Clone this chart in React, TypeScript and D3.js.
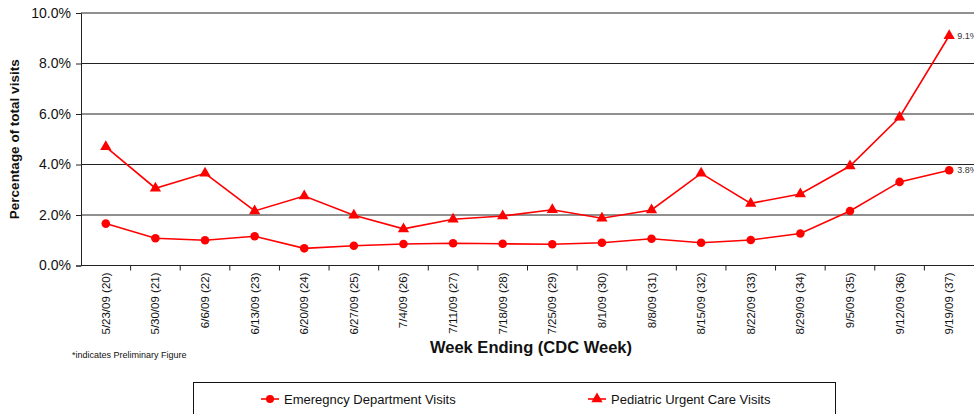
import { useEffect, useRef } from 'react';
import * as d3 from 'd3';

const weeks = [
  '5/23/09 (20)', '5/30/09 (21)', '6/6/09 (22)', '6/13/09 (23)', '6/20/09 (24)', '6/27/09 (25)',
  '7/4/09 (26)', '7/11/09 (27)', '7/18/09 (28)', '7/25/09 (29)', '8/1/09 (30)', '8/8/09 (31)',
  '8/15/09 (32)', '8/22/09 (33)', '8/29/09 (34)', '9/5/09 (35)', '9/12/09 (36)', '9/19/09 (37)',
];

const edVisits = [1.66, 1.08, 1.0, 1.16, 0.68, 0.78, 0.85, 0.88, 0.86, 0.84, 0.9, 1.06, 0.9, 1.01, 1.27, 2.16, 3.31, 3.77];
const pedsVisits = [4.7, 3.06, 3.65, 2.16, 2.75, 1.99, 1.45, 1.83, 1.96, 2.21, 1.87, 2.2, 3.65, 2.46, 2.83, 3.94, 5.87, 9.1];

const yTicks = [0, 2, 4, 6, 8, 10];

const RED = '#ff0000';
const FONT = '"Liberation Sans", Arial, sans-serif';

function App() {
  const ref = useRef<SVGSVGElement>(null);

  useEffect(() => {
    const w = 974;
    const h = 414;
    const left = 81;
    const right = 974;
    const top = 13;
    const bottom = 265.5;

    const svg = d3.select(ref.current).attr('width', w).attr('height', h);
    svg.selectAll('*').remove();

    const x = d3.scaleBand<string>().domain(weeks).range([left, right]).padding(0);
    const cx = (d: string) => (x(d) as number) + x.bandwidth() / 2;
    const y = d3.scaleLinear().domain([0, 10]).range([bottom, top]);

    // gridlines
    svg
      .append('g')
      .selectAll('line')
      .data(yTicks.filter(t => t > 0))
      .join('line')
      .attr('x1', left)
      .attr('x2', right)
      .attr('y1', d => y(d))
      .attr('y2', d => y(d))
      .attr('stroke', '#222')
      .attr('stroke-width', 1);

    // y axis
    const yAxis = svg
      .append('g')
      .attr('transform', `translate(${left},0)`)
      .call(d3.axisLeft(y).tickValues(yTicks).tickSize(5).tickPadding(5).tickFormat(d => `${(+d).toFixed(1)}%`));
    yAxis.select('.domain').attr('stroke', '#222');
    yAxis.selectAll('.tick line').attr('stroke', '#222');
    yAxis.selectAll('text').attr('font-family', FONT).attr('font-size', 14).attr('fill', '#111');

    // x axis
    svg
      .append('line')
      .attr('x1', left)
      .attr('x2', right)
      .attr('y1', bottom)
      .attr('y2', bottom)
      .attr('stroke', '#222');
    svg
      .append('g')
      .selectAll('line')
      .data(weeks.slice(1))
      .join('line')
      .attr('x1', d => x(d) as number)
      .attr('x2', d => x(d) as number)
      .attr('y1', bottom)
      .attr('y2', bottom + 5)
      .attr('stroke', '#222');
    svg
      .append('g')
      .selectAll('text')
      .data(weeks)
      .join('text')
      .attr('transform', d => `translate(${cx(d) + 4},${bottom + 7}) rotate(-90)`)
      .attr('text-anchor', 'end')
      .attr('font-family', FONT)
      .attr('font-size', 11.5)
      .attr('fill', '#111')
      .text(d => d);

    // axis titles
    svg
      .append('text')
      .attr('transform', `translate(19,${(top + bottom) / 2}) rotate(-90)`)
      .attr('text-anchor', 'middle')
      .attr('font-family', FONT)
      .attr('font-size', 13.5)
      .attr('font-weight', 'bold')
      .attr('fill', '#111')
      .text('Percentage of total visits');
    svg
      .append('text')
      .attr('x', 531)
      .attr('y', 353)
      .attr('text-anchor', 'middle')
      .attr('font-family', FONT)
      .attr('font-size', 16.5)
      .attr('font-weight', 'bold')
      .attr('fill', '#111')
      .text('Week Ending (CDC Week)');
    svg
      .append('text')
      .attr('x', 72)
      .attr('y', 358)
      .attr('font-family', FONT)
      .attr('font-size', 9)
      .attr('fill', '#111')
      .text('*indicates Preliminary Figure');

    const line = d3
      .line<number>()
      .x((_, i) => cx(weeks[i]))
      .y(d => y(d));

    const triangle = d3.symbol().type(d3.symbolTriangle).size(55);

    // peds series
    svg.append('path').datum(pedsVisits).attr('d', line).attr('fill', 'none').attr('stroke', RED).attr('stroke-width', 1.6);
    svg
      .append('g')
      .selectAll('path')
      .data(pedsVisits)
      .join('path')
      .attr('transform', (d, i) => `translate(${cx(weeks[i])},${y(d)})`)
      .attr('d', triangle())
      .attr('fill', RED);

    // ED series
    svg.append('path').datum(edVisits).attr('d', line).attr('fill', 'none').attr('stroke', RED).attr('stroke-width', 1.6);
    svg
      .append('g')
      .selectAll('circle')
      .data(edVisits)
      .join('circle')
      .attr('cx', (_, i) => cx(weeks[i]))
      .attr('cy', d => y(d))
      .attr('r', 4.3)
      .attr('fill', RED);

    // end labels
    const last = weeks.length - 1;
    [pedsVisits[last], edVisits[last]].forEach(v => {
      svg
        .append('text')
        .attr('x', cx(weeks[last]) + 8)
        .attr('y', y(v) + 3)
        .attr('font-family', FONT)
        .attr('font-size', 9)
        .attr('fill', '#333')
        .text(`${v.toFixed(1)}%`);
    });

    // legend
    const lg = svg.append('g');
    lg.append('rect')
      .attr('x', 193.5)
      .attr('y', 382.5)
      .attr('width', 642)
      .attr('height', 40)
      .attr('fill', 'none')
      .attr('stroke', '#111');
    const items = [
      { label: 'Emeregncy Department Visits', x: 261, marker: 'circle' },
      { label: 'Pediatric Urgent Care Visits', x: 588, marker: 'triangle' },
    ];
    items.forEach(it => {
      const ly = 399;
      lg.append('line')
        .attr('x1', it.x)
        .attr('x2', it.x + 18)
        .attr('y1', ly)
        .attr('y2', ly)
        .attr('stroke', RED)
        .attr('stroke-width', 1.6);
      if (it.marker === 'circle') {
        lg.append('circle').attr('cx', it.x + 9).attr('cy', ly).attr('r', 4).attr('fill', RED);
      } else {
        lg.append('path').attr('transform', `translate(${it.x + 9},${ly})`).attr('d', triangle()).attr('fill', RED);
      }
      lg.append('text')
        .attr('x', it.x + 23)
        .attr('y', ly + 4.5)
        .attr('font-family', FONT)
        .attr('font-size', 13)
        .attr('fill', '#111')
        .text(it.label);
    });

    return () => {
      svg.selectAll('*').remove();
    };
  }, []);

  return (
    <svg
      ref={ref}
      role="img"
      aria-label="Percentage of total visits by week"
      style={{ position: 'absolute', left: 0, top: 0, display: 'block' }}
    />
  );
}

export default App;
